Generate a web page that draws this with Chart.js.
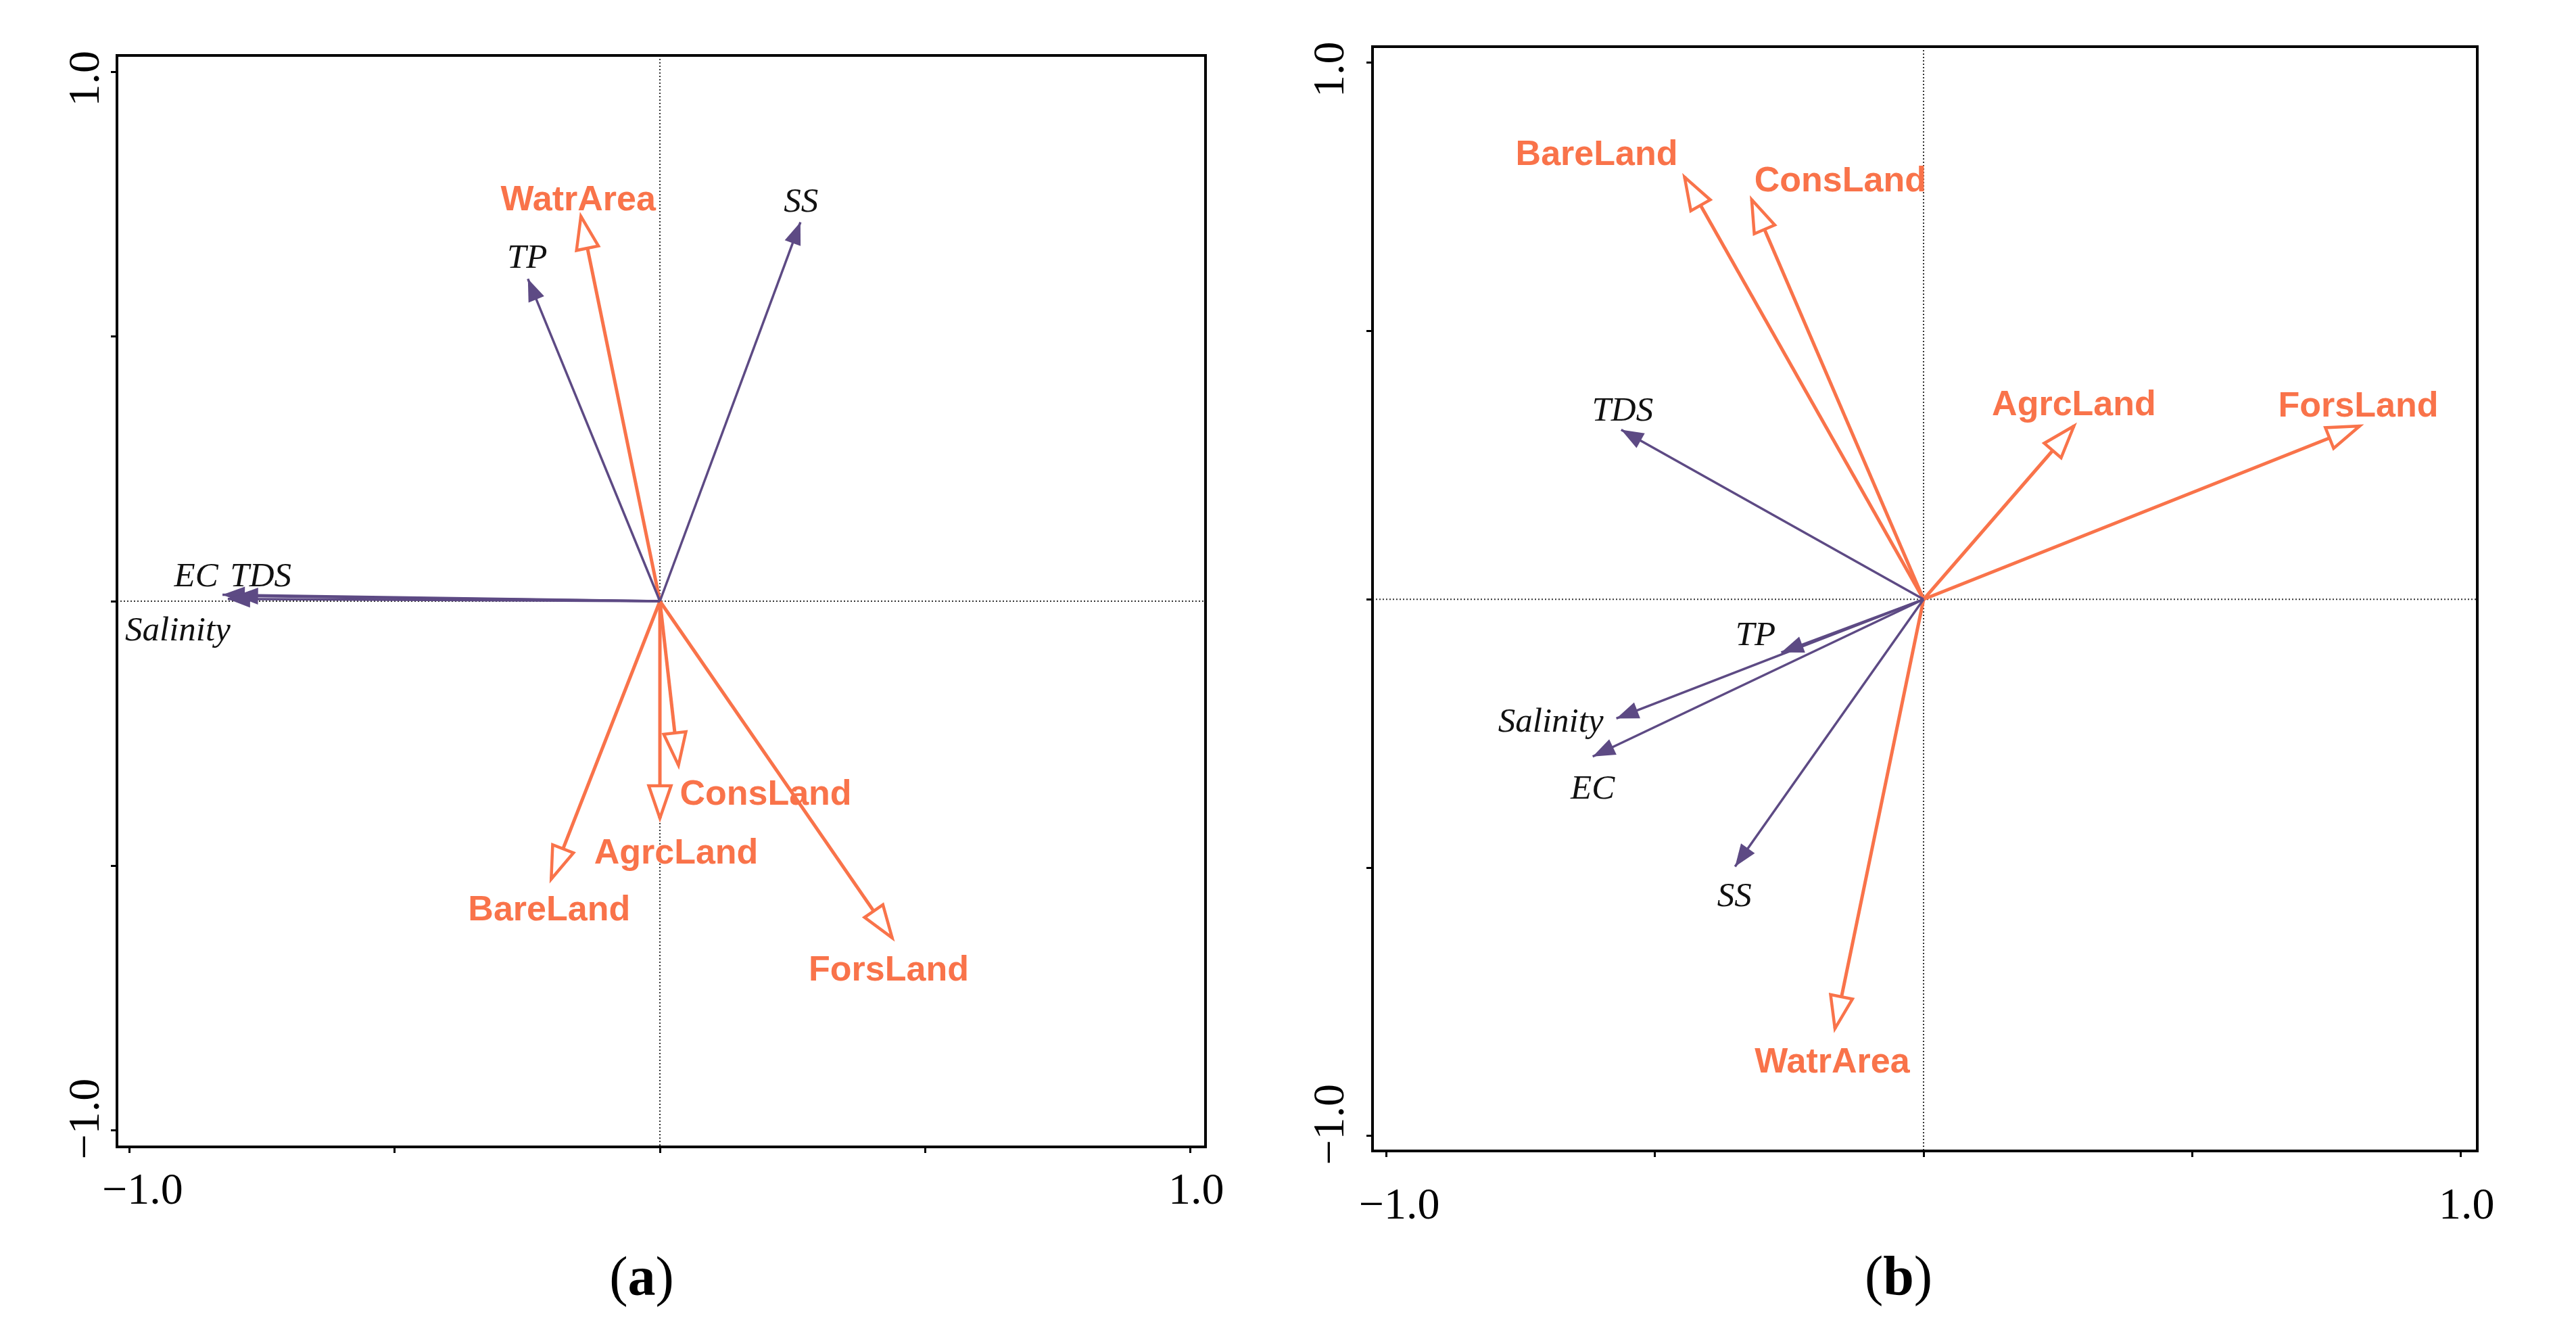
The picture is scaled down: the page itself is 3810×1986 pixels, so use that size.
<!DOCTYPE html>
<html>
<head>
<meta charset="utf-8">
<script src="https://cdn.jsdelivr.net/npm/chart.js@4.4.1/dist/chart.umd.min.js"></script>
<style>
  html, body { margin: 0; padding: 0; background: #fff; }
  #page { position: relative; width: 3810px; height: 1986px; background: #fff; }
  .panel { position: absolute; top: 0; width: 1905px; height: 1986px; }
</style>
</head>
<body>
<div id="page">
  <div class="panel" style="left:0"><canvas id="chartA" width="1905" height="1986"></canvas></div>
  <div class="panel" style="left:1905px"><canvas id="chartB" width="1905" height="1986"></canvas></div>
</div>
<script>
// axis ticks (only the ends get a label)
const tickValues = [-1, -0.5, 0, 0.5, 1];
const labeledTicks = [-1, 1];
const labeledTickText = ["\u22121.0", "1.0"];

// panel (a): water quality variables
const envNamesA = ["EC", "TDS", "Salinity", "TP", "SS"];
const envXA = [-0.825, -0.800, -0.815, -0.249, 0.265];
const envYA = [0.012, 0.010, 0.004, 0.609, 0.716];
// panel (a): land use variables
const landNamesA = ["WatrArea", "ConsLand", "AgrcLand", "BareLand", "ForsLand"];
const landXA = [-0.149, 0.035, 0.000, -0.205, 0.438];
const landYA = [0.727, -0.310, -0.410, -0.525, -0.636];

// panel (b): water quality variables
const envNamesB = ["TDS", "TP", "Salinity", "EC", "SS"];
const envXB = [-0.563, -0.265, -0.572, -0.616, -0.351];
const envYB = [0.316, -0.099, -0.222, -0.293, -0.498];
// panel (b): land use variables
const landNamesB = ["BareLand", "ConsLand", "AgrcLand", "ForsLand", "WatrArea"];
const landXB = [-0.445, -0.320, 0.280, 0.812, -0.165];
const landYB = [0.787, 0.745, 0.323, 0.323, -0.800];

// label placement, pixels from the arrow tip (label cap centre)
const envOffA = [[-39, -30], [37, -31], [-74, 44], [-1, -33], [1, -33]];
const landOffA = [[-4, -27], [129, 40], [24, 49], [-3, 43], [-5, 45]];
const envOffB = [[2, -31], [-38, -28], [-97, 3], [0, 45], [-1, 42]];
const landOffB = [[-130, -36], [131, -31], [0, -34], [-2, -32], [-4, 46]];

const PURPLE = "#5d4a84";
const ORANGE = "#f9734a";
const SANS = '"Liberation Sans", Arial, sans-serif';
const SERIF = '"Liberation Serif", "Times New Roman", serif';

function arrowSets(names, xs, ys, kind, offsets) {
  return names.map((name, i) => ({
    label: name,
    data: [{ x: 0, y: 0 }, { x: xs[i], y: ys[i] }],
    kind: kind,
    labelOffset: offsets[i],
    borderColor: kind === "env" ? PURPLE : ORANGE,
    borderWidth: kind === "env" ? 3.5 : 5,
    showLine: true,
    pointRadius: 0,
    pointHoverRadius: 0,
    fill: false,
  }));
}

const biplotPlugin = {
  id: "biplot",
  beforeDatasetsDraw(chart) {
    const { ctx, chartArea: a, scales } = chart;
    const x0 = scales.x.getPixelForValue(0);
    const y0 = scales.y.getPixelForValue(0);
    ctx.save();
    ctx.strokeStyle = "#333";
    ctx.lineWidth = 2;
    ctx.setLineDash([2, 3]);
    ctx.beginPath();
    ctx.moveTo(x0, a.top);
    ctx.lineTo(x0, a.bottom);
    ctx.moveTo(a.left, y0);
    ctx.lineTo(a.right, y0);
    ctx.stroke();
    ctx.restore();
  },
  afterDatasetsDraw(chart, args, opts) {
    const { ctx, chartArea: a, scales } = chart;
    ctx.save();

    // arrow heads and labels
    chart.data.datasets.forEach((ds, i) => {
      const pts = chart.getDatasetMeta(i).data;
      const p0 = pts[0], p1 = pts[1];
      const ang = Math.atan2(p1.y - p0.y, p1.x - p0.x);
      const cos = Math.cos(ang), sin = Math.sin(ang);
      const len = ds.kind === "env" ? 33 : 48;
      const half = ds.kind === "env" ? 12.5 : 16.5;
      const bx = p1.x - len * cos, by = p1.y - len * sin;
      ctx.beginPath();
      ctx.moveTo(p1.x, p1.y);
      ctx.lineTo(bx - half * sin, by + half * cos);
      ctx.lineTo(bx + half * sin, by - half * cos);
      ctx.closePath();
      if (ds.kind === "env") {
        ctx.fillStyle = PURPLE;
        ctx.fill();
      } else {
        ctx.fillStyle = "#fff";
        ctx.fill();
        ctx.strokeStyle = ORANGE;
        ctx.lineWidth = 4.5;
        ctx.lineJoin = "miter";
        ctx.stroke();
      }

      const cx = p1.x + ds.labelOffset[0];
      const cy = p1.y + ds.labelOffset[1];
      ctx.textAlign = "center";
      ctx.textBaseline = "alphabetic";
      if (ds.kind === "env") {
        ctx.font = "italic 51px " + SERIF;
        ctx.fillStyle = "#111";
        ctx.fillText(ds.label, cx, cy + 17);
      } else {
        ctx.font = "bold 52px " + SANS;
        ctx.fillStyle = ORANGE;
        ctx.fillText(ds.label, cx, cy + 18.5);
      }
    });

    // frame
    ctx.strokeStyle = "#000";
    ctx.lineWidth = 4;
    ctx.strokeRect(a.left, a.top, a.right - a.left, a.bottom - a.top);

    // tick labels
    ctx.fillStyle = "#000";
    ctx.font = "66px " + SERIF;
    ctx.textAlign = "center";
    ctx.textBaseline = "alphabetic";
    const xShift = [19, 9];
    const yShift = [17, -10];
    labeledTicks.forEach((v, i) => {
      const px = scales.x.getPixelForValue(v);
      ctx.fillText(labeledTickText[i], px + xShift[i], a.bottom + opts.xLabelGap);
      const py = scales.y.getPixelForValue(v);
      ctx.save();
      ctx.translate(a.left - opts.yLabelGap, py);
      ctx.rotate(-Math.PI / 2);
      ctx.fillText(labeledTickText[i], yShift[i], 0);
      ctx.restore();
    });

    // panel letter "(a)" / "(b)"
    const open = "(", close = ")";
    ctx.font = "82px " + SERIF;
    const wo = ctx.measureText(open).width;
    const wc = ctx.measureText(close).width;
    ctx.font = "bold 82px " + SERIF;
    const wl = ctx.measureText(opts.letter).width;
    const total = wo + wl + wc;
    let lx = scales.x.getPixelForValue(0) + opts.letterDx - total / 2;
    const ly = a.bottom + opts.letterGap;
    ctx.textAlign = "left";
    ctx.font = "82px " + SERIF;
    ctx.fillText(open, lx, ly);
    lx += wo;
    ctx.font = "bold 82px " + SERIF;
    ctx.fillText(opts.letter, lx, ly);
    lx += wl;
    ctx.font = "82px " + SERIF;
    ctx.fillText(close, lx, ly);

    ctx.restore();
  },
};

function axis(min, max) {
  return {
    type: "linear",
    min: min,
    max: max,
    afterBuildTicks: (s) => { s.ticks = tickValues.map((v) => ({ value: v })); },
    ticks: { display: false },
    border: { display: false },
    grid: {
      drawOnChartArea: false,
      drawTicks: true,
      tickLength: 9,
      tickWidth: 3,
      tickColor: "#000",
      color: "#000",
    },
  };
}

function makeChart(id, datasets, panelOpts, xr, yr, padding) {
  return new Chart(document.getElementById(id), {
    type: "scatter",
    data: { datasets: datasets },
    options: {
      responsive: false,
      animation: false,
      devicePixelRatio: 1,
      events: [],
      layout: { padding: padding },
      scales: { x: axis(xr[0], xr[1]), y: axis(yr[0], yr[1]) },
      plugins: {
        legend: { display: false },
        tooltip: { enabled: false },
        biplot: panelOpts,
      },
    },
    plugins: [biplotPlugin],
  });
}

makeChart(
  "chartA",
  arrowSets(envNamesA, envXA, envYA, "env", envOffA)
    .concat(arrowSets(landNamesA, landXA, landYA, "land", landOffA)),
  { letter: "a", xLabelGap: 84, yLabelGap: 27, letterDx: -27, letterGap: 219 },
  [-1.024, 1.029],
  [-1.031, 1.031],
  { left: 164, top: 82, right: 122, bottom: 281 }
);

makeChart(
  "chartB",
  arrowSets(envNamesB, envXB, envYB, "env", envOffB)
    .concat(arrowSets(landNamesB, landXB, landYB, "land", landOffB)),
  { letter: "b", xLabelGap: 100, yLabelGap: 43, letterDx: -37, letterGap: 212 },
  [-1.026, 1.031],
  [-1.028, 1.030],
  { left: 116, top: 69, right: 146, bottom: 275 }
);
</script>
</body>
</html>
